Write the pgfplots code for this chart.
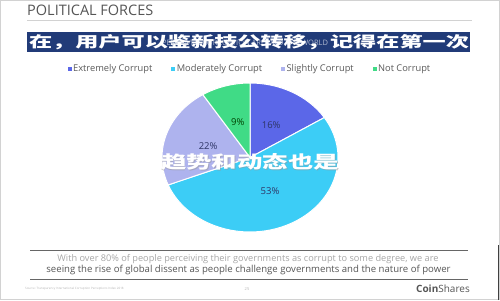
\documentclass[border=0pt]{standalone}
\usepackage{pgfplots}
\pgfplotsset{compat=1.18}
\usepackage{fontspec}
\setmainfont{Open Sans}
\newfontfamily\cjk{Noto Sans CJK SC}

\definecolor{cExt}{HTML}{5B67E8}
\definecolor{cMod}{HTML}{3CCDF6}
\definecolor{cSli}{HTML}{AEB3EE}
\definecolor{cNot}{HTML}{40DB86}
\definecolor{navy}{HTML}{213B78}
\definecolor{txt}{HTML}{555555}
\definecolor{lab}{HTML}{2E3566}

% shares in percent, clockwise from the top
\def\vA{16} % Extremely Corrupt
\def\vB{53} % Moderately Corrupt
\def\vC{22} % Slightly Corrupt
\def\vD{9}  % Not Corrupt
\pgfmathsetmacro\aA{90}
\pgfmathsetmacro\aB{\aA-3.6*\vA}
\pgfmathsetmacro\aC{\aB-3.6*\vB}
\pgfmathsetmacro\aD{\aC-3.6*\vC}
\pgfmathsetmacro\aE{\aD-3.6*\vD}

\begin{document}
\begin{tikzpicture}[x=1pt,y=1pt]
\useasboundingbox (0,0) rectangle (500,300);
\draw[gray!35, line width=1pt] (0.5,0.5) rectangle (499.5,299.5);
\draw[black!75, line width=1.2pt] (498.5,0) -- (498.5,55);

% header
\node[anchor=base west, inner sep=0, text=txt, font=\fontsize{14.5}{15}\selectfont] at (27,284.5) {POLITICAL FORCES};
\draw[gray!35, line width=0.8pt] (27,280) -- (472,280);
\fill[navy] (27,248) rectangle (470,268);
\node[text=white!65!navy, font=\fontsize{7.5}{8}\selectfont] at (245,257) {PERCEIVED CORRUPTION AROUND THE WORLD};
\node[text=white, inner sep=0] at (249,258) {\resizebox{440pt}{13pt}{\cjk\bfseries 在，用户可以鉴新技公转移，记得在第一次}};

\begin{axis}[
    at={(250pt,142.5pt)}, anchor=center,
    scale only axis, width=176pt, height=149pt,
    xmin=-1, xmax=1, ymin=-1, ymax=1,
    hide axis, clip=false,
    legend columns=4,
    legend cell align=left,
    legend style={at={(0.5,1.094)}, anchor=center, draw=none, fill=none,
        font=\fontsize{9.3}{10}\selectfont, text=black!65,
        /tikz/every even column/.append style={column sep=17pt}},
    legend image code/.code={\fill[#1] (0pt,-1.5pt) rectangle (3pt,1.5pt);},
]
\addlegendimage{cExt}\addlegendentry{Extremely Corrupt}
\addlegendimage{cMod}\addlegendentry{Moderately Corrupt}
\addlegendimage{cSli}\addlegendentry{Slightly Corrupt}
\addlegendimage{cNot}\addlegendentry{Not Corrupt}

\fill[cExt, draw=white, line width=1pt] (axis cs:0,0) -- (axis cs:{cos(\aA)},{sin(\aA)}) arc[start angle=\aA, end angle=\aB, x radius=88pt, y radius=74.5pt] -- cycle;
\fill[cMod, draw=white, line width=1pt] (axis cs:0,0) -- (axis cs:{cos(\aB)},{sin(\aB)}) arc[start angle=\aB, end angle=\aC, x radius=88pt, y radius=74.5pt] -- cycle;
\fill[cSli, draw=white, line width=1pt] (axis cs:0,0) -- (axis cs:{cos(\aC)},{sin(\aC)}) arc[start angle=\aC, end angle=\aD, x radius=88pt, y radius=74.5pt] -- cycle;
\fill[cNot, draw=white, line width=1pt] (axis cs:0,0) -- (axis cs:{cos(\aD)},{sin(\aD)}) arc[start angle=\aD, end angle=\aE, x radius=88pt, y radius=74.5pt] -- cycle;

\node[text=lab, font=\fontsize{9.5}{10}\selectfont] at (axis cs:{0.5*cos((\aA+\aB)/2)},{0.5*sin((\aA+\aB)/2)}) {16\%};
\node[text=lab, font=\fontsize{9.5}{10}\selectfont] at (axis cs:{0.5*cos((\aB+\aC)/2)},{0.5*sin((\aB+\aC)/2)}) {53\%};
\node[text=lab, font=\fontsize{9.5}{10}\selectfont] at (axis cs:{0.5*cos((\aC+\aD)/2)},{0.5*sin((\aC+\aD)/2)}) {22\%};
\node[text=black!75!green, font=\fontsize{9.5}{10}\selectfont] at (axis cs:{0.5*cos((\aD+\aE)/2)},{0.5*sin((\aD+\aE)/2)}) {9\%};
\end{axis}

% overlay text on the pie
\node[text=black!40, opacity=0.5, inner sep=0] at (250.6,137.4) {\resizebox{178pt}{15pt}{\cjk\bfseries 趋势和动态也是}};
\node[text=white, inner sep=0] at (250,138) {\resizebox{178pt}{15pt}{\cjk\bfseries 趋势和动态也是}};

% footer
\draw[black!60, line width=0.8pt] (30,50) -- (468,50);
\node[text=black!35, font=\fontsize{9.2}{10}\selectfont] at (248,41) {With over 80\% of people perceiving their governments as corrupt to some degree, we are};
\node[text=txt, font=\fontsize{9.6}{10}\selectfont] at (248.5,30) {seeing the rise of global dissent as people challenge governments and the nature of power};
\draw[black!60, line width=0.8pt] (30,21) -- (468,21);
\node[anchor=west, inner sep=0, text=black!30, font=\fontsize{3}{3}\selectfont] at (25,11) {Source: Transparency International Corruption Perceptions Index 2018};
\node[inner sep=0, text=black!30, font=\fontsize{4}{4}\selectfont] at (247,11) {25};
\node[anchor=east, inner sep=0, text=txt, font=\fontsize{10}{10}\selectfont] at (470,11) {\textbf{Coin}Shares};
\end{tikzpicture}
\end{document}
